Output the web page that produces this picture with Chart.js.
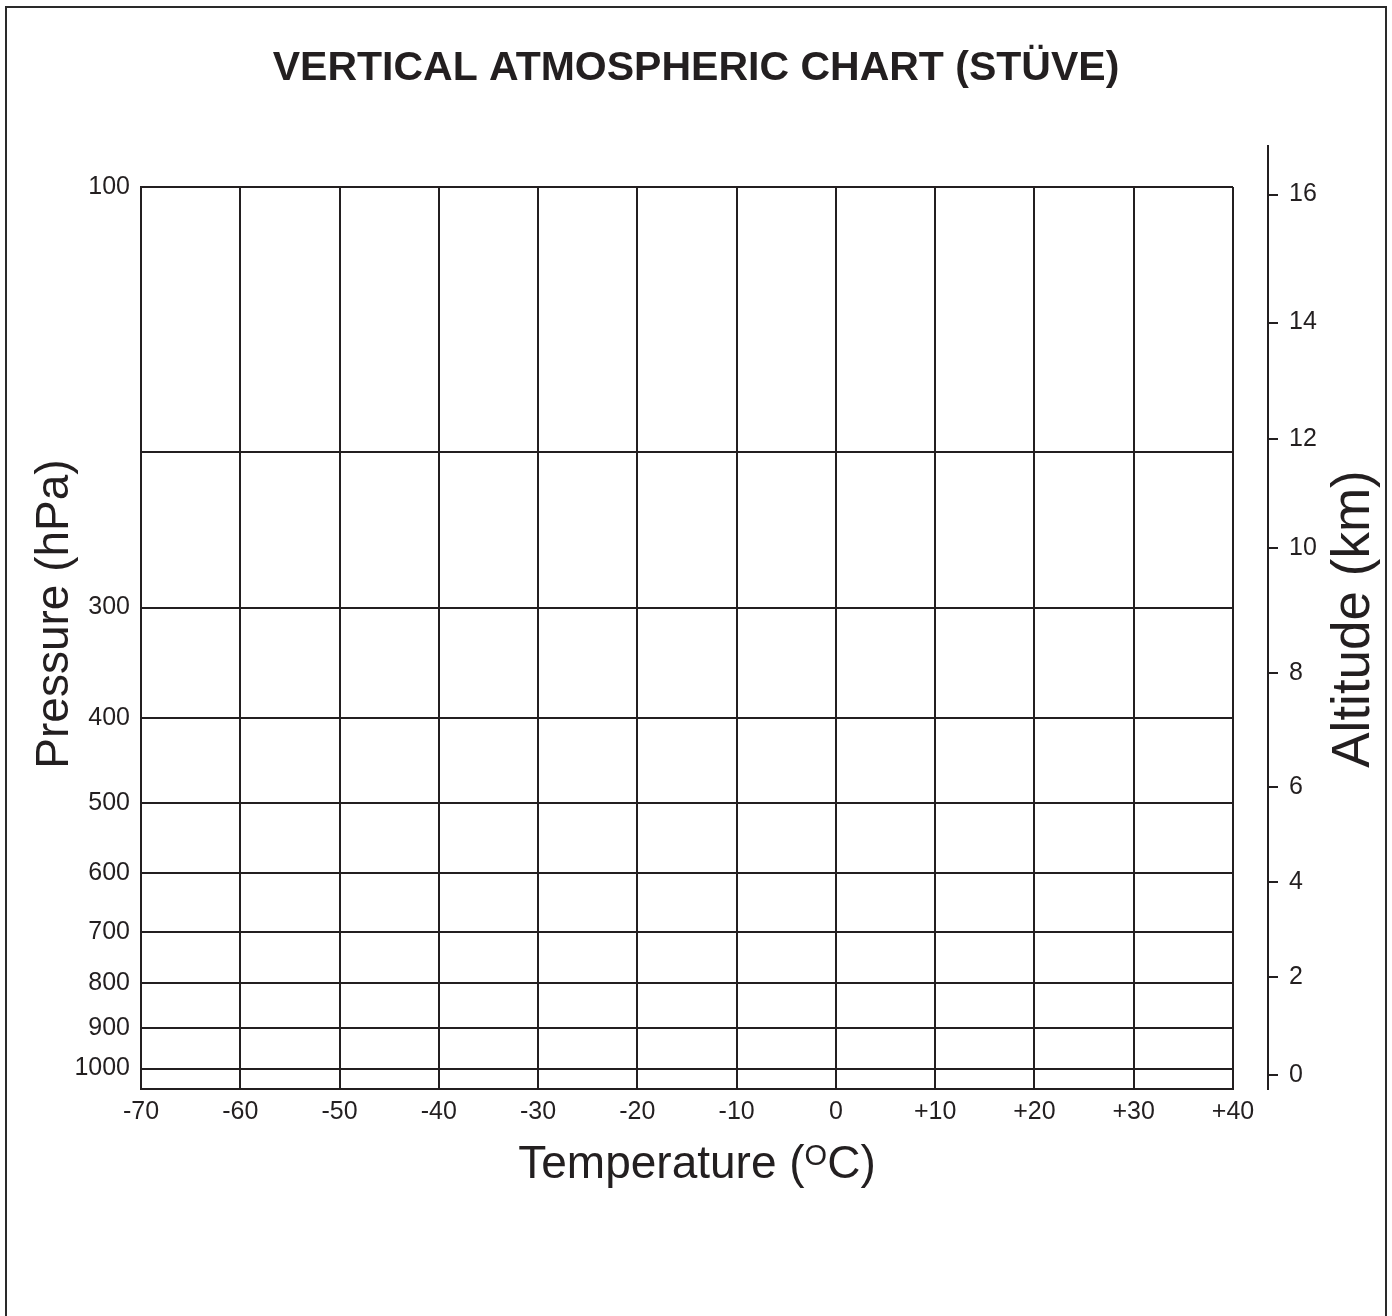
<!DOCTYPE html>
<html>
<head>
<meta charset="utf-8">
<title>Vertical Atmospheric Chart (Stüve)</title>
<script src="https://cdn.jsdelivr.net/npm/chart.js@4.4.1/dist/chart.umd.min.js"></script>
<style>
  html, body { margin: 0; padding: 0; background: #fff; overflow: hidden; }
  #wrap { position: relative; width: 1392px; height: 1316px; }
  #frame { position: absolute; left: 5px; top: 6px; width: 1378px; height: 1400px; border: 2px solid #2a2a2a; pointer-events: none; }
</style>
</head>
<body>
<div id="wrap">
  <canvas id="stuveChart"></canvas>
  <div id="frame"></div>
</div>
<script>
var ink = '#231f20'
var fontFamily = "'Liberation Sans', Arial, Helvetica, sans-serif"
Chart.defaults.font.family = fontFamily
Chart.defaults.color = ink

var chartTitle = 'VERTICAL ATMOSPHERIC CHART (STÜVE)'
var pressureTitle = 'Pressure (hPa)'
var altitudeTitle = 'Altitude (km)'
var tempTitle = ['Temperature (', 'O', 'C)']   // middle part is the superscript

// temperature axis (deg C)
var tempTicks = [-70, -60, -50, -40, -30, -20, -10, 0, 10, 20, 30, 40]
var tempLabels = ['-70', '-60', '-50', '-40', '-30', '-20', '-10', '0', '+10', '+20', '+30', '+40']

// pressure axis (hPa), log scale, 200 has a line but no label
var pressureTicks = [100, 200, 300, 400, 500, 600, 700, 800, 900, 1000]
var pressureLabels = ['100', '', '300', '400', '500', '600', '700', '800', '900', '1000']
var pressureMin = 100
var pressureMax = 1055

// altitude axis (km) and the pressure each mark sits at
var altitudeKm = [0, 2, 4, 6, 8, 10, 12, 14, 16]
var altitudePressure = [1017, 787, 614, 479, 356, 257, 193, 142.5, 102]

function setTicks(values) {
    return function(scale) {
        scale.ticks = values.map(function(v) { return {value: v} })
    }
}

var stuveDecor = {
    id: 'stuveDecor',
    afterDraw: function(chart) {
        var c = chart.ctx
        var area = chart.chartArea
        var alt = chart.scales.alt
        c.save()

        // altitude axis line runs on above the plot (same pixel snap as the border)
        var axisX = Math.round(alt.left - 1) + 1
        c.strokeStyle = ink
        c.lineWidth = 2
        c.beginPath()
        c.moveTo(axisX, area.top - 42)
        c.lineTo(axisX, area.top + 1)
        c.stroke()

        c.fillStyle = ink
        c.textAlign = 'center'
        c.textBaseline = 'alphabetic'
        c.font = 'bold 41px ' + fontFamily
        c.fillText(chartTitle, chart.width / 2, 80)

        c.textBaseline = 'middle'
        c.font = '46px ' + fontFamily
        c.save()
        c.translate(55, 614)
        c.rotate(-Math.PI / 2)
        c.fillText(pressureTitle, 0, 0)
        c.restore()

        c.font = '53px ' + fontFamily
        c.save()
        c.translate(1354, 619)
        c.rotate(-Math.PI / 2)
        c.fillText(altitudeTitle, 0, 0)
        c.restore()

        // temperature title with superscript O
        var big = '46px ' + fontFamily
        var small = '29px ' + fontFamily
        c.textBaseline = 'alphabetic'
        c.textAlign = 'left'
        c.font = big
        var w1 = c.measureText(tempTitle[0]).width
        var w3 = c.measureText(tempTitle[2]).width
        c.font = small
        var w2 = c.measureText(tempTitle[1]).width
        var x0 = 697 - (w1 + w2 + w3) / 2
        var base = 1178
        c.font = big
        c.fillText(tempTitle[0], x0, base)
        c.font = small
        c.fillText(tempTitle[1], x0 + w1, base - 13)
        c.font = big
        c.fillText(tempTitle[2], x0 + w1 + w2, base)

        c.restore()
    }
}

var ctx = document.getElementById('stuveChart').getContext('2d')

var chart = new Chart(ctx, {
    type: 'scatter',
    data: {
        datasets: [{ data: [], xAxisID: 'x', yAxisID: 'y' }]
    },
    options: {
        responsive: true,
        maintainAspectRatio: false,
        animation: false,
        events: [],
        layout: { padding: { top: 187, left: 0, right: 0, bottom: 0 } },
        plugins: {
            legend: { display: false },
            tooltip: { enabled: false }
        },
        scales: {
            x: {
                type: 'linear',
                position: 'bottom',
                min: -70,
                max: 40,
                afterBuildTicks: setTicks(tempTicks),
                afterFit: function(s) { s.height = 227 },
                ticks: {
                    autoSkip: false, maxRotation: 0, padding: 8,
                    font: { size: 25 }, color: ink,
                    callback: function(v, i) { return tempLabels[i] }
                },
                grid: { color: ink, lineWidth: 2, drawTicks: false },
                border: { color: ink, width: 2 }
            },
            y: {
                type: 'logarithmic',
                position: 'left',
                reverse: true,
                bounds: 'data',
                min: pressureMin,
                max: pressureMax,
                afterBuildTicks: setTicks(pressureTicks),
                afterFit: function(s) { s.width = 141 },
                ticks: {
                    autoSkip: false, padding: 11,
                    font: { size: 25 }, color: ink,
                    callback: function(v, i) { return pressureLabels[i] }
                },
                grid: { color: ink, lineWidth: 2, drawTicks: false },
                border: { color: ink, width: 2 }
            },
            gap: {
                type: 'linear',
                position: 'right',
                weight: 0,
                afterFit: function(s) { s.width = 35 },
                ticks: { display: false },
                grid: { display: false, drawTicks: false },
                border: { display: false }
            },
            alt: {
                type: 'logarithmic',
                position: 'right',
                weight: 1,
                reverse: true,
                bounds: 'data',
                min: pressureMin,
                max: pressureMax,
                afterBuildTicks: setTicks(altitudePressure),
                afterFit: function(s) { s.width = 124 },
                ticks: {
                    autoSkip: false, padding: 11,
                    font: { size: 25 }, color: ink,
                    callback: function(v, i) { return String(altitudeKm[i]) }
                },
                grid: { display: true, drawOnChartArea: false, drawTicks: true, tickLength: 10, color: ink, lineWidth: 2 },
                border: { display: true, color: ink, width: 2 }
            }
        }
    },
    plugins: [stuveDecor]
})
</script>
</body>
</html>
